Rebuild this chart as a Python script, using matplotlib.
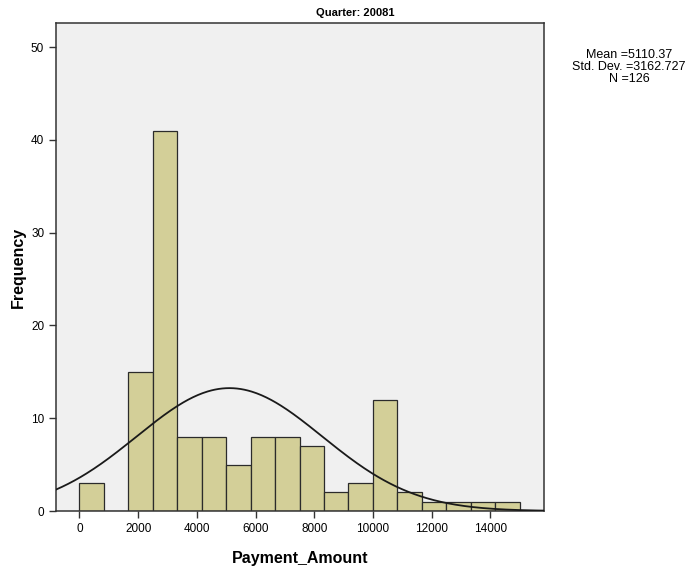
import matplotlib
matplotlib.use("Agg")
import matplotlib.pyplot as plt
import numpy as np

plt.rcParams["font.family"] = ["Liberation Sans", "DejaVu Sans"]

# histogram data
bin_edges = np.linspace(0, 15000, 19)
counts = [3, 0, 15, 41, 8, 8, 5, 8, 8, 7, 2, 3, 12, 2, 1, 1, 1, 1]
mean = 5110.37
std = 3162.727
n_obs = 126
title = "Quarter: 20081"

fig = plt.figure(figsize=(6.91, 5.71), dpi=100)
ax = fig.add_axes([56 / 691, 1 - 511 / 571, (544 - 56) / 691, (511 - 23) / 571])
ax.set_facecolor("#f0f0f0")

widths = np.diff(bin_edges)
ax.bar(bin_edges[:-1], counts, width=widths, align="edge",
       color="#d3cf98", edgecolor="#2b2b2b", linewidth=0.9, zorder=2)

xmin, xmax = -800, 15830
xs = np.linspace(xmin, xmax, 400)
bw = widths[0]
pdf = np.exp(-0.5 * ((xs - mean) / std) ** 2) / (std * np.sqrt(2 * np.pi))
ax.plot(xs, n_obs * bw * pdf, color="#1a1a1a", linewidth=1.3, zorder=3)

ax.set_xlim(xmin, xmax)
ax.set_ylim(0, 52.6)
ax.set_xticks(np.arange(0, 15000, 2000))
ax.set_yticks(np.arange(0, 51, 10))
ax.tick_params(direction="out", length=5, width=1, labelsize=8.5, color="#333333")
for s in ax.spines.values():
    s.set_color("#333333")
    s.set_linewidth(1.1)

ax.set_xlabel("Payment_Amount", fontsize=11.5, fontweight="bold", labelpad=12)
ax.set_ylabel("Frequency", fontsize=11.5, fontweight="bold", labelpad=4)

fig.text(355 / 691, 1 - 13 / 571, title, ha="center", va="center",
         fontsize=8, fontweight="bold")
stats = f"Mean ={mean}\nStd. Dev. ={std}\nN ={n_obs}"
fig.text(629 / 691, 1 - 67 / 571, stats, ha="center", va="center",
         fontsize=9, linespacing=1.0)

fig.savefig("out.png", dpi=100)
